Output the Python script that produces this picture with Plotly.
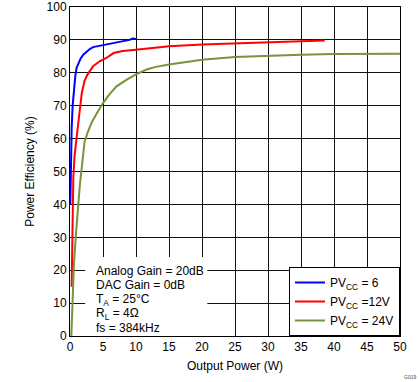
import plotly.graph_objects as go

blue_x = [0.05, 0.1, 0.25, 0.4, 0.6, 0.8, 1.0, 1.3, 1.6, 2.0, 2.5, 3.0, 3.5, 4.0, 5.0, 6.0, 7.0, 8.0, 9.0, 9.5, 10.0]
blue_y = [40, 52, 63, 70, 75, 79, 81.5, 83, 84.3, 85.5, 86.4, 87.2, 87.8, 88.0, 88.2, 88.7, 89.2, 89.6, 90.0, 90.4, 90.3]

red_x = [0.25, 0.3, 0.4, 0.5, 0.7, 0.9, 1.1, 1.3, 1.5, 1.8, 2.2, 2.6, 3.0, 3.5, 4.5, 5.5, 6.6, 8, 10, 12.5, 15, 20, 25, 30, 35, 38.6]
red_y = [15, 23, 38, 48, 55, 59, 63, 67, 69, 74, 77.5, 79.3, 80.5, 82, 83.5, 84.5, 86, 86.6, 87, 87.6, 88.1, 88.6, 89.0, 89.3, 89.6, 89.8]

green_x = [0.2, 0.3, 0.4, 0.6, 0.9, 1.2, 1.5, 1.8, 2.2, 2.7, 3.3, 4.0, 5.0, 6.0, 7.0, 8.6, 10, 11.6, 13, 15, 20, 25, 30, 35, 40, 45, 50]
green_y = [0, 5, 11, 22, 31, 40, 46, 51.5, 59, 62, 65, 67.5, 70.8, 73.5, 75.8, 77.9, 79.5, 81, 81.8, 82.5, 84, 84.8, 85.2, 85.5, 85.7, 85.8, 85.8]

names = ["PV<sub>CC</sub> = 6", "PV<sub>CC</sub> =12V", "PV<sub>CC</sub> = 24V"]
colors = ["#0000FF", "#FF0000", "#77933C"]

cond_lines = ["Analog Gain = 20dB", "DAC Gain = 0dB", "T<sub>A</sub> = 25°C",
              "R<sub>L</sub> = 4Ω", "fs = 384kHz"]
cond_y = [19.8, 15.5, 11.0, 6.7, 2.4]

FONT = "Liberation Sans, Arial, sans-serif"

fig = go.Figure()
for xs, ys, n, c in [(blue_x, blue_y, names[0], colors[0]),
                     (red_x, red_y, names[1], colors[1]),
                     (green_x, green_y, names[2], colors[2])]:
    fig.add_trace(go.Scatter(x=xs, y=ys, mode="lines", name=n,
                             line=dict(color=c, width=2)))

fig.add_shape(type="rect", xref="x", yref="y", x0=2.3, x1=20.8, y0=0, y1=24,
              fillcolor="white", line=dict(width=0), layer="between")

for t, yy in zip(cond_lines, cond_y):
    fig.add_annotation(xref="x", yref="y", x=3.7, y=yy, xanchor="left", yanchor="middle",
                       text=t, showarrow=False, align="left",
                       font=dict(family=FONT, size=12, color="black"))

fig.add_annotation(xref="paper", yref="paper", x=1.03, y=-0.125, xanchor="center", yanchor="middle",
                   text="G019", showarrow=False, font=dict(family=FONT, size=5, color="#444"))

axis_common = dict(showline=True, linecolor="black", linewidth=1, mirror=True,
                   showgrid=True, gridcolor="#111", gridwidth=1, zeroline=False,
                   automargin=False,
                   ticks="", tickfont=dict(family=FONT, size=12, color="black"))

fig.update_layout(
    width=419, height=382,
    margin=dict(l=70, r=19, t=7, b=46, autoexpand=False),
    paper_bgcolor="white", plot_bgcolor="white",
    font=dict(family=FONT, size=12, color="black"),
    xaxis=dict(range=[0, 50], dtick=5, title=dict(text="Output Power (W)", standoff=8,
               font=dict(family=FONT, size=12)), **axis_common),
    yaxis=dict(range=[0, 100], dtick=10, title=dict(text="Power Efficiency (%)", standoff=9,
               font=dict(family=FONT, size=12)), **axis_common),
    legend=dict(x=1, y=0, xanchor="right", yanchor="bottom", bgcolor="white",
                bordercolor="black", borderwidth=1, font=dict(family=FONT, size=12),
                tracegroupgap=0, itemwidth=30),
    showlegend=True,
)

fig.write_html("out.html", config={"displayModeBar": False},
               post_script="document.body.style.margin='0';document.body.style.overflow='hidden';")
